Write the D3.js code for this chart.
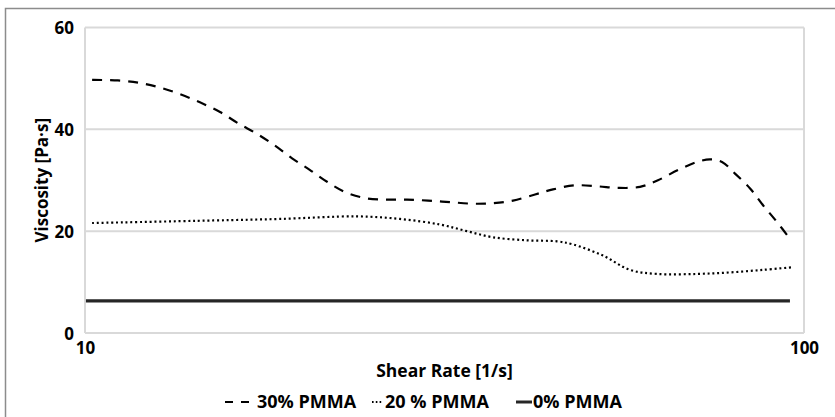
<!DOCTYPE html>
<html>
<head>
<meta charset="utf-8">
<script src="https://cdn.jsdelivr.net/npm/d3@7"></script>
<style>
  html, body { margin: 0; padding: 0; background: #fff; }
  svg { display: block; }
  text { font-family: "Open Sans", "Noto Sans", sans-serif; font-weight: 700; fill: #000; }
</style>
</head>
<body>
<svg id="chart" width="835" height="417"></svg>
<script>
// ---- data ----
const seriesNames = ["30% PMMA", "20 % PMMA", "0% PMMA"];

const shearRate30 = [10.23, 11.11, 11.93, 12.72, 13.56, 14.45, 15.41, 16.32, 17.35, 18.37, 19.41, 20.56, 21.71, 22.99, 24.52, 26.30, 28.04, 30.00, 32.19, 34.53, 36.94, 39.38, 42.26, 44.76, 48.03, 51.70, 55.11, 59.14, 62.64, 66.79, 71.00, 74.02, 76.91, 80.18, 84.14, 87.70, 91.71, 95.60];
const viscosity30 = [49.7, 49.6, 49.1, 48.2, 46.9, 45.3, 43.4, 41.2, 39.1, 36.8, 34.3, 32.0, 29.7, 27.7, 26.5, 26.2, 26.2, 26.0, 25.7, 25.4, 25.5, 26.0, 27.2, 28.2, 29.0, 28.8, 28.5, 28.7, 30.0, 32.0, 33.6, 34.1, 33.6, 31.3, 28.4, 25.1, 21.8, 18.5];

const shearRate20 = [10.23, 15.07, 18.67, 23.89, 27.43, 31.18, 33.98, 36.94, 41.19, 45.34, 47.72, 52.54, 57.28, 62.45, 71.00, 78.90, 87.70, 96.22];
const viscosity20 = [21.6, 22.1, 22.4, 22.9, 22.4, 21.3, 20.0, 18.8, 18.2, 18.0, 17.4, 15.2, 12.4, 11.6, 11.6, 11.9, 12.4, 12.9];

const shearRate0 = [10.03, 95.6];
const viscosity0 = [6.3, 6.3];

const xTickValues = [10, 100];
const yTickValues = [0, 20, 40, 60];
const xTitle = "Shear Rate [1/s]";
const yTitle = "Viscosity [Pa·s]";

// ---- layout ----
const svg = d3.select("#chart");
const plot = { left: 85, right: 804, top: 27.5, bottom: 333 };

const x = d3.scaleLog().domain([10, 100]).range([plot.left, plot.right]);
const y = d3.scaleLinear().domain([0, 60]).range([plot.bottom, plot.top]);

// outer chart border (only top/left visible in the crop)
svg.append("rect")
  .attr("x", 5.5).attr("y", 8.5).attr("width", 840).attr("height", 420)
  .attr("fill", "none").attr("stroke", "#8c8c8c").attr("stroke-width", 1.5);

// gridlines
const gridColor = "#d9d9d9";
svg.append("g")
  .selectAll("line")
  .data(yTickValues)
  .join("line")
  .attr("x1", plot.left).attr("x2", plot.right)
  .attr("y1", d => y(d)).attr("y2", d => y(d))
  .attr("stroke", gridColor).attr("stroke-width", 2);

// plot-area vertical borders
svg.append("line")
  .attr("x1", x(10)).attr("x2", x(10)).attr("y1", y(60)).attr("y2", y(0))
  .attr("stroke", gridColor).attr("stroke-width", 2);
svg.append("line")
  .attr("x1", x(100)).attr("x2", x(100)).attr("y1", y(60)).attr("y2", y(0))
  .attr("stroke", gridColor).attr("stroke-width", 2);

// y axis tick labels
const yAxis = svg.append("g")
  .attr("transform", `translate(${plot.left},0)`)
  .call(d3.axisLeft(y).tickValues(yTickValues).tickSize(0).tickPadding(11).tickFormat(d3.format("d")));
yAxis.select(".domain").remove();
yAxis.selectAll("text").attr("font-size", 17).attr("font-family", null).attr("fill", "#000").attr("dy", "0.36em");

// x axis tick labels
const xAxis = svg.append("g")
  .attr("transform", `translate(0,${plot.bottom})`)
  .call(d3.axisBottom(x).tickValues(xTickValues).tickSize(0).tickPadding(9).tickFormat(d3.format("d")));
xAxis.select(".domain").remove();
xAxis.selectAll("text").attr("font-size", 17).attr("font-family", null).attr("fill", "#000");

// axis titles
svg.append("text")
  .attr("x", (plot.left + plot.right) / 2).attr("y", 377)
  .attr("text-anchor", "middle").attr("font-size", 17.5)
  .text(xTitle);
svg.append("text")
  .attr("transform", `translate(48,${(plot.top + plot.bottom) / 2}) rotate(-90)`)
  .attr("text-anchor", "middle").attr("font-size", 17)
  .text(yTitle);

// lines
const line = d3.line()
  .x(d => x(d[0]))
  .y(d => y(d[1]))
  .curve(d3.curveCatmullRom.alpha(0.5));

const series = [
  { name: seriesNames[0], pts: d3.zip(shearRate30, viscosity30), dash: "10,8", width: 2.2, color: "#000" },
  { name: seriesNames[1], pts: d3.zip(shearRate20, viscosity20), dash: "2,2.8", width: 2.2, color: "#000" },
  { name: seriesNames[2], pts: d3.zip(shearRate0, viscosity0), dash: null, width: 3.2, color: "#262626" }
];

svg.append("g")
  .selectAll("path")
  .data(series)
  .join("path")
  .attr("d", d => line(d.pts))
  .attr("fill", "none")
  .attr("stroke", d => d.color)
  .attr("stroke-width", d => d.width)
  .attr("stroke-dasharray", d => d.dash);

// legend
const legendY = 402;
const legendItems = [
  { s: series[0], x1: 225, x2: 249, dash: "8,8", tx: 257 },
  { s: series[1], x1: 372, x2: 383, dash: "1.6,2.2", tx: 385 },
  { s: series[2], x1: 516, x2: 532, dash: null, tx: 533 }
];
const lg = svg.append("g").selectAll("g").data(legendItems).join("g");
lg.append("line")
  .attr("x1", d => d.x1).attr("x2", d => d.x2)
  .attr("y1", legendY).attr("y2", legendY)
  .attr("stroke", d => d.s.color)
  .attr("stroke-width", d => d.s.dash ? 2.2 : 3)
  .attr("stroke-dasharray", d => d.dash);
lg.append("text")
  .attr("x", d => d.tx).attr("y", 408)
  .attr("font-size", 18)
  .text(d => d.s.name);
</script>
</body>
</html>
